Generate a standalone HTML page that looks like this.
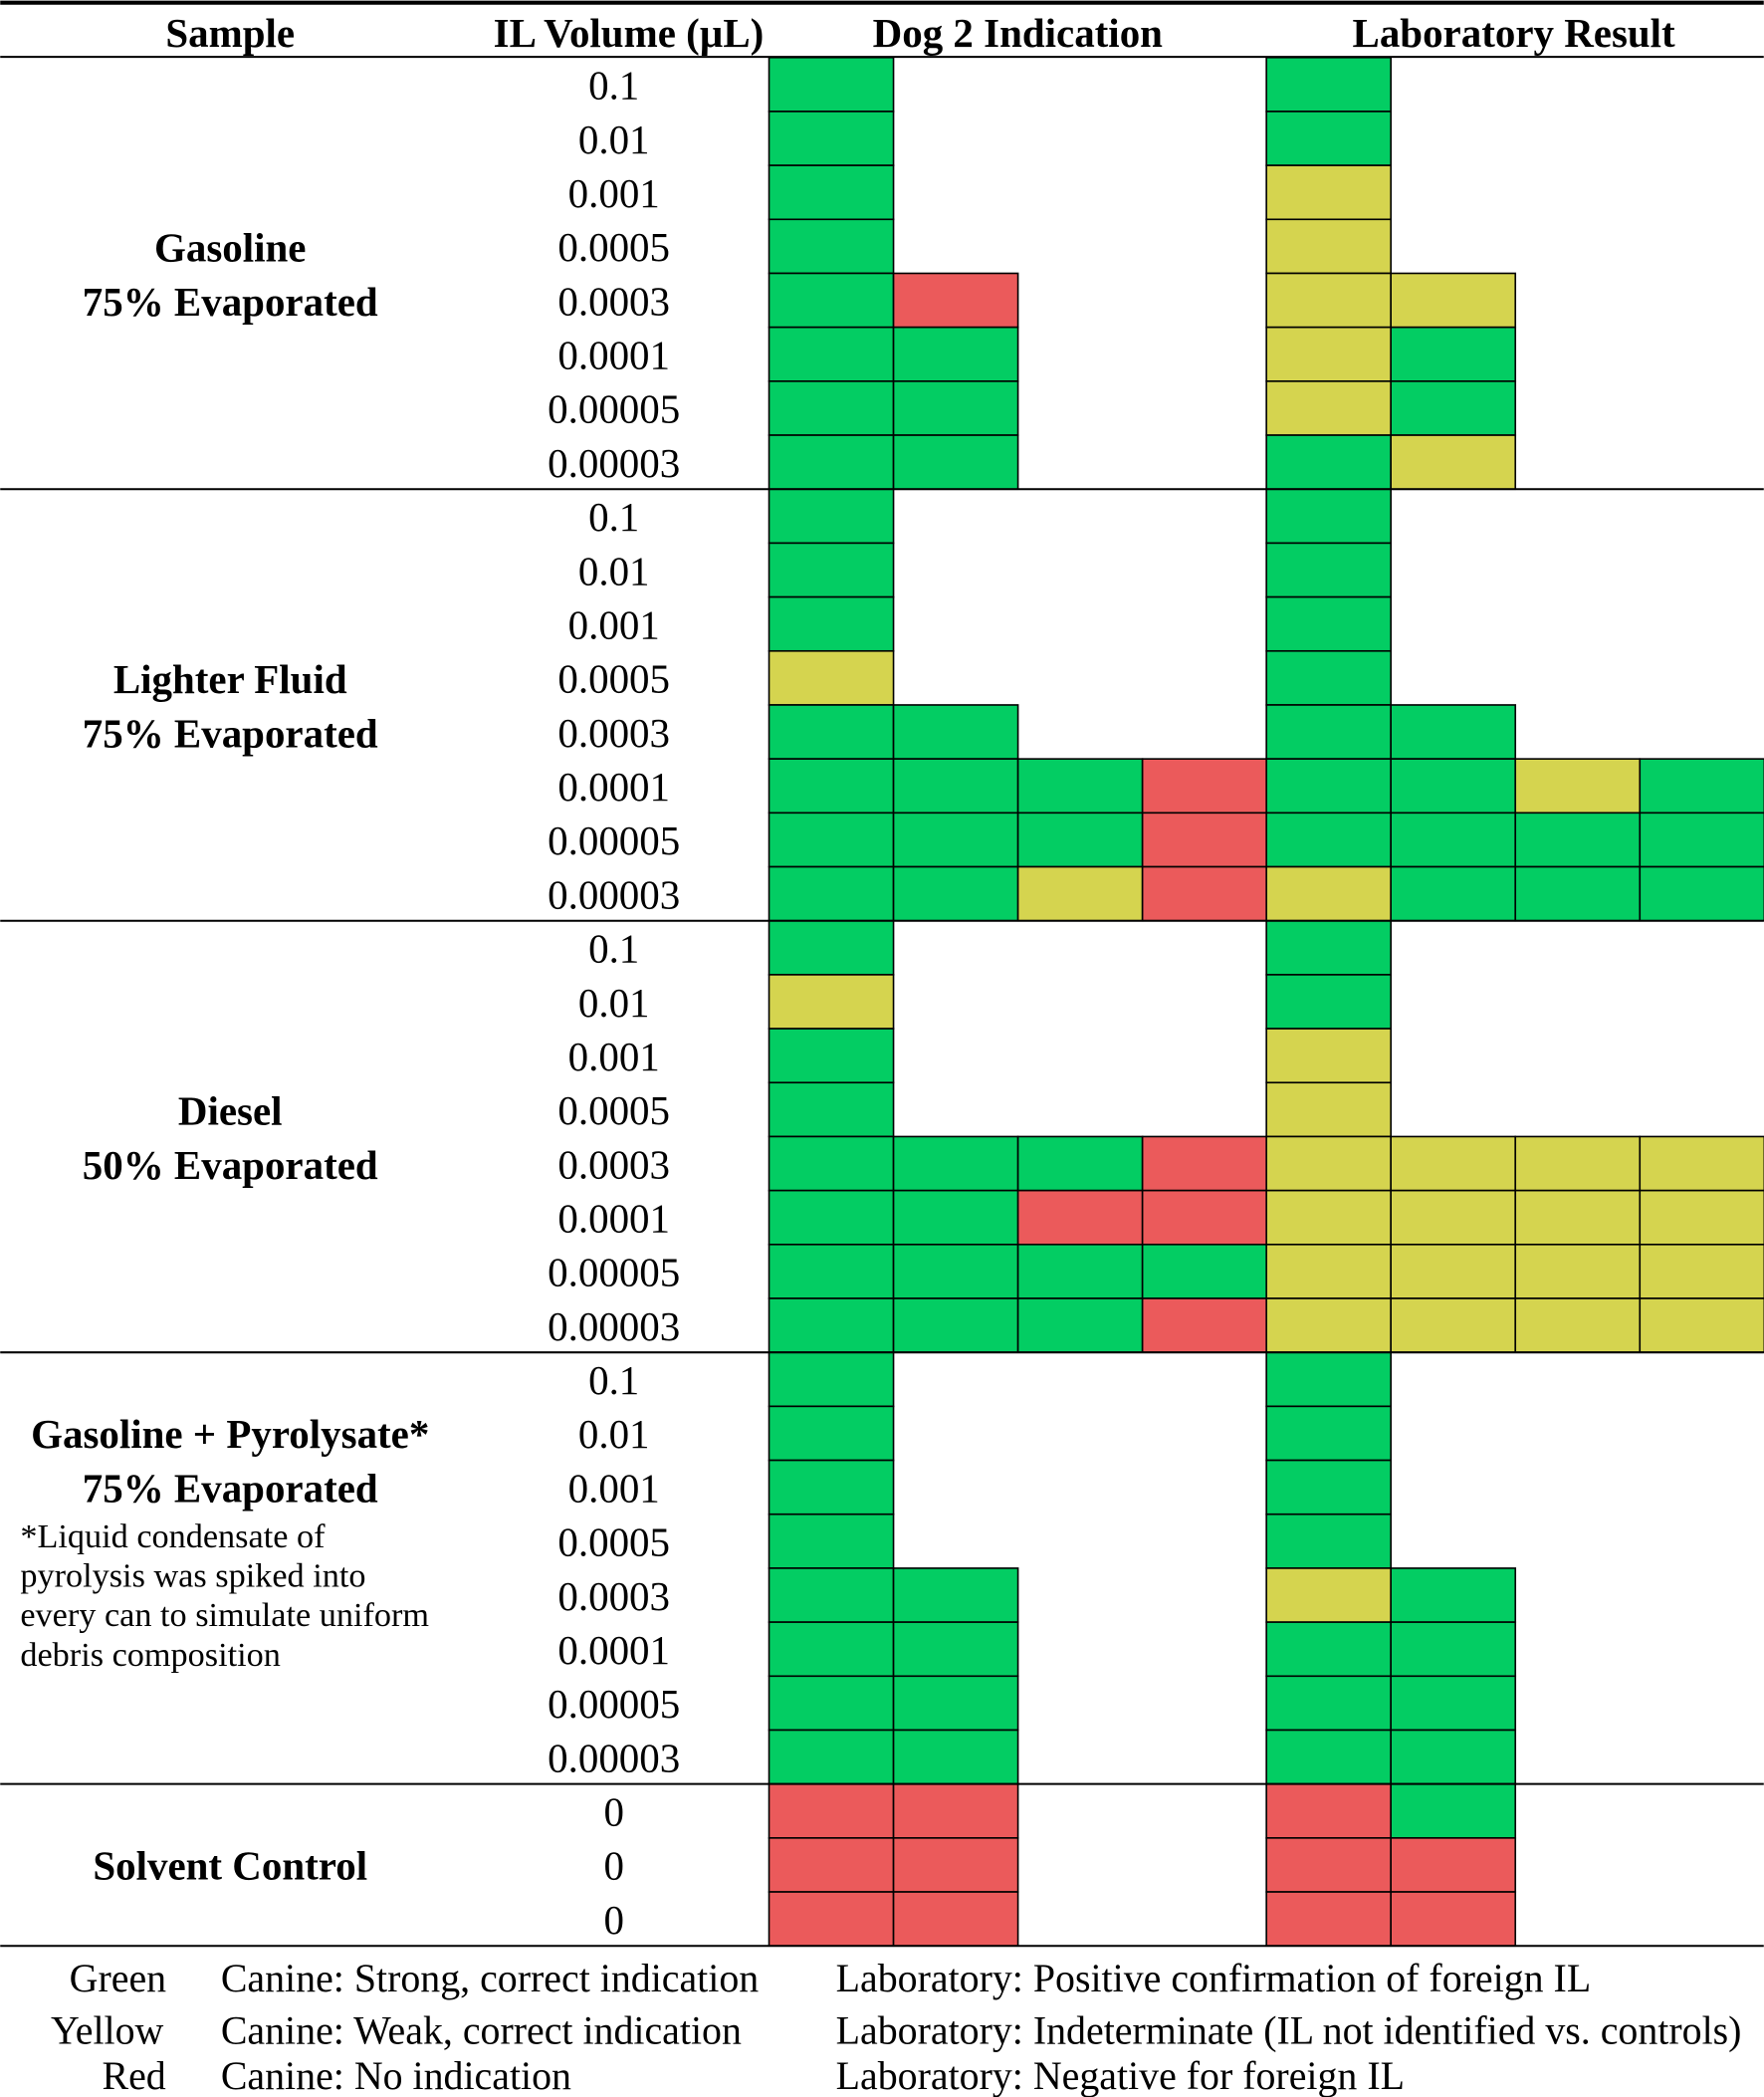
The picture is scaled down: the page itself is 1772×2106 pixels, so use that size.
<!DOCTYPE html>
<html><head><meta charset="utf-8">
<style>
html,body{margin:0;padding:0;background:#fff;}
svg{display:block;}
text{font-family:"Liberation Serif",serif;fill:#000;}
.b{font-weight:bold;}
</style></head>
<body>
<svg id="chart" width="1772" height="2106" viewBox="0 0 1319 1568" xmlns="http://www.w3.org/2000/svg">
<g id="hdr">
<line x1="0" y1="2" x2="1319" y2="2" stroke="#000" stroke-width="3"/>
<line x1="0" y1="42.5" x2="1319" y2="42.5" stroke="#000" stroke-width="1.5"/>
<text class="b" x="172" y="35" font-size="30.5" text-anchor="middle">Sample</text>
<text class="b" x="470" y="35" font-size="30.5" text-anchor="middle">IL Volume (µL)</text>
<text class="b" x="761" y="35" font-size="30.5" text-anchor="middle">Dog 2 Indication</text>
<text class="b" x="1132" y="35" font-size="30.5" text-anchor="middle">Laboratory Result</text>
</g>
<g id="cells"></g>
<g id="labels"></g>
<g id="legend" font-size="29.7">
<text x="88" y="1489" text-anchor="middle">Green</text>
<text x="80" y="1528" text-anchor="middle">Yellow</text>
<text x="124" y="1562" text-anchor="end">Red</text>
<text x="165" y="1489">Canine: Strong, correct indication</text>
<text x="165" y="1528">Canine: Weak, correct indication</text>
<text x="165" y="1562">Canine: No indication</text>
<text x="625" y="1489">Laboratory: Positive confirmation of foreign IL</text>
<text x="625" y="1528">Laboratory: Indeterminate (IL not identified vs. controls)</text>
<text x="625" y="1562">Laboratory: Negative for foreign IL</text>
</g>
</svg>
<script>
const groups = [["Gasoline","75% Evaporated"],["Lighter Fluid","75% Evaporated"],["Diesel","50% Evaporated"],["Gasoline + Pyrolysate*","75% Evaporated"],["Solvent Control"]];
const groupSizes = [8,8,8,8,3];
const volumes = ["0.1","0.01","0.001","0.0005","0.0003","0.0001","0.00005","0.00003"];
const solventVolumes = ["0","0","0"];
const dogResults = ["G","G","G","G","GR","GG","GG","GG",
 "G","G","G","Y","GG","GGGR","GGGR","GGYR",
 "G","Y","G","G","GGGR","GGRR","GGGG","GGGR",
 "G","G","G","G","GG","GG","GG","GG",
 "RR","RR","RR"];
const labResults = ["G","G","Y","Y","YY","YG","YG","GY",
 "G","G","G","G","GG","GGYG","GGGG","YGGG",
 "G","G","Y","Y","YYYY","YYYY","YYYY","YYYY",
 "G","G","G","G","YG","GG","GG","GG",
 "RG","RR","RR"];
const NS="http://www.w3.org/2000/svg";
const colors={G:"#03cd63",Y:"#d5d44f",R:"#eb5a5b"};
const top0=43, rowH=(1455-43)/35, cellW=93.1, dogX=575, labX=947;
const yOf=i=>top0+i*rowH;
const cells=document.getElementById('cells'), labels=document.getElementById('labels');
function mk(tag,attrs,parent){const e=document.createElementNS(NS,tag);for(const k in attrs)e.setAttribute(k,attrs[k]);parent.appendChild(e);return e;}
function drawRow(arr,x0,kind){
 arr.forEach((s,i)=>{[...s].forEach((c,j)=>{
  const r=mk('rect',{x:x0+j*cellW,y:yOf(i),width:cellW,height:rowH,fill:colors[c],stroke:"#000","stroke-width":1.2},cells);
  
  
 });});
}
drawRow(dogResults,dogX,'dog');
drawRow(labResults,labX,'lab');
let row=0;
groups.forEach((g,gi)=>{
 const n=groupSizes[gi];
 const vols=gi===4?solventVolumes:volumes;
 for(let k=0;k<n;k++){
  const t=mk('text',{x:459,y:yOf(row+k)+rowH/2+11,'font-size':30.5,'text-anchor':'middle'},labels);
  t.textContent=vols[k];
  
  
 }
 const mid=yOf(row)+n*rowH/2;
 const y0 = g.length===2 ? mid-20+11 : mid+11;
 const gy = gi===3 ? yOf(row)+rowH*1.5+11 : y0;
 g.forEach((line,li)=>{
  const t=mk('text',{x:172,y:gy+li*40.5,'font-size':30.5,'text-anchor':'middle','class':'b'},labels);
  t.textContent=line;
  
  
 });
 row+=n;
 const l=mk('line',{x1:0,x2:1319,y1:yOf(row),y2:yOf(row),stroke:"#000","stroke-width":1.5},labels);
 
 
});
const note=["*Liquid condensate of","pyrolysis was spiked into","every can to simulate uniform","debris composition"];
note.forEach((s,i)=>{
 const t=mk('text',{x:15,y:1157+i*29.5,'font-size':25.5},labels);
 t.textContent=s;
 
 
});
</script>
</body></html>
